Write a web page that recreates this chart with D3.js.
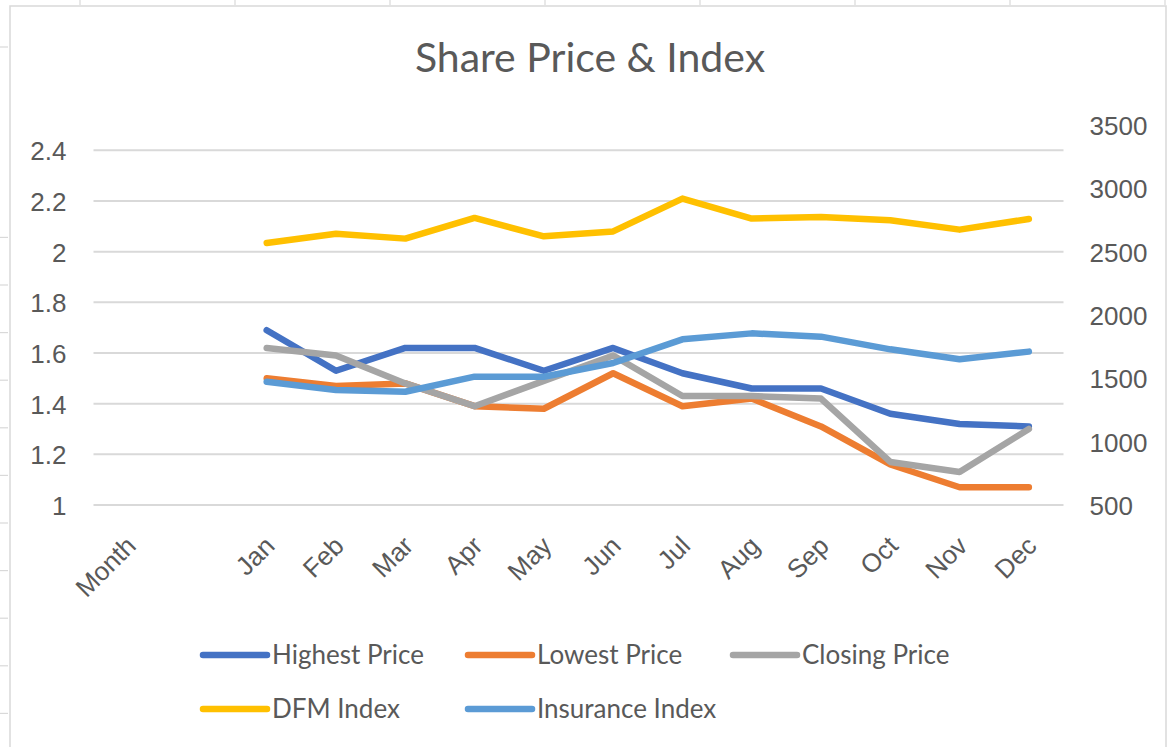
<!DOCTYPE html>
<html>
<head>
<meta charset="utf-8">
<script src="https://cdn.jsdelivr.net/npm/d3@7.9.0/dist/d3.min.js"></script>
<style>
  html, body { margin: 0; padding: 0; background: #fff; }
  svg { display: block; font-family: Lato, "Open Sans", sans-serif; }
  .tick-label { fill: #595959; font-size: 26px; }
</style>
</head>
<body>
<svg id="chart" width="1168" height="747"></svg>
<script>
// categories (first two are the header row and a blank row of the sheet)
const categories = ["Month", " ", "Jan", "Feb", "Mar", "Apr", "May", "Jun", "Jul", "Aug", "Sep", "Oct", "Nov", "Dec"];
const months = categories.slice(2);

// share prices (left axis)
const highestPrice = [1.69, 1.53, 1.62, 1.62, 1.53, 1.62, 1.52, 1.46, 1.46, 1.36, 1.32, 1.31];
const lowestPrice  = [1.50, 1.47, 1.48, 1.39, 1.38, 1.52, 1.39, 1.42, 1.31, 1.16, 1.07, 1.07];
const closingPrice = [1.62, 1.59, 1.48, 1.39, 1.49, 1.59, 1.43, 1.43, 1.42, 1.17, 1.13, 1.30];

// indices (right axis)
const dfmIndex       = [2569, 2642, 2603, 2766, 2621, 2660, 2919, 2761, 2774, 2748, 2674, 2758];
const insuranceIndex = [1473, 1408, 1394, 1513, 1513, 1621, 1808, 1855, 1829, 1729, 1650, 1711];

const leftTicks = [1, 1.2, 1.4, 1.6, 1.8, 2, 2.2, 2.4];
const rightTicks = [500, 1000, 1500, 2000, 2500, 3000, 3500];

const series = [
  { name: "Highest Price", values: highestPrice, axis: "left", color: "#4472C4" },
  { name: "Lowest Price", values: lowestPrice, axis: "left", color: "#ED7D31" },
  { name: "Closing Price", values: closingPrice, axis: "left", color: "#A5A5A5" },
  { name: "DFM Index", values: dfmIndex, axis: "right", color: "#FFC000" },
  { name: "Insurance Index", values: insuranceIndex, axis: "right", color: "#5B9BD5" }
];

const svg = d3.select("#chart");
const plot = { left: 93.5, right: 1063.5, top: 125, bottom: 505 };

// sheet cell edges peeking out round the chart
const sheet = svg.append("g").attr("stroke", "#d9d9d9").attr("stroke-width", 1.2);
d3.range(47, 747, 47.6).filter(y => !(y > 60 && y < 200)).forEach(y => {
  sheet.append("line").attr("x1", 0).attr("x2", 8).attr("y1", y).attr("y2", y);
});
d3.range(80, 1168, 155).forEach(x => {
  sheet.append("line").attr("x1", x).attr("x2", x).attr("y1", 0).attr("y2", 5);
});

// chart frame
svg.append("rect")
  .attr("x", 10).attr("y", 6)
  .attr("width", 1156).attr("height", 800)
  .attr("fill", "#fff")
  .attr("stroke", "#d9d9d9")
  .attr("stroke-width", 1.5);

const x = d3.scaleBand().domain(categories).range([plot.left, plot.right]).padding(0);
const xc = d => x(d) + x.bandwidth() / 2;
const yLeft = d3.scaleLinear().domain([1, 2.5]).range([plot.bottom, plot.top]);
const yRight = d3.scaleLinear().domain([500, 3500]).range([plot.bottom, plot.top]);

// title
svg.append("text")
  .attr("x", 590).attr("y", 72)
  .attr("text-anchor", "middle")
  .attr("fill", "#595959")
  .style("font-size", "41px")
  .text("Share Price & Index");

// gridlines
svg.append("g")
  .selectAll("line")
  .data(leftTicks)
  .join("line")
  .attr("x1", plot.left).attr("x2", plot.right)
  .attr("y1", d => yLeft(d)).attr("y2", d => yLeft(d))
  .attr("stroke", "#d9d9d9")
  .attr("stroke-width", 2);

// left axis
const leftAxis = svg.append("g")
  .attr("transform", `translate(${plot.left - 27},0)`)
  .call(d3.axisLeft(yLeft).tickValues(leftTicks).tickSize(0).tickFormat(d => String(+d.toFixed(1))));
leftAxis.select(".domain").remove();
leftAxis.selectAll("text").attr("class", "tick-label").attr("x", 0).attr("dy", "0.36em");

// right axis
const rightAxis = svg.append("g")
  .attr("transform", `translate(${plot.right + 26},0)`)
  .call(d3.axisRight(yRight).tickValues(rightTicks).tickSize(0).tickFormat(d3.format("d")));
rightAxis.select(".domain").remove();
rightAxis.selectAll("text").attr("class", "tick-label").attr("x", 0).attr("dy", "0.36em");

// x axis labels, rotated
const xAxis = svg.append("g")
  .attr("transform", `translate(0,${plot.bottom})`)
  .call(d3.axisBottom(x).tickSize(0));
xAxis.select(".domain").remove();
xAxis.selectAll("text")
  .attr("class", "tick-label")
  .attr("text-anchor", "end")
  .attr("y", 0).attr("dy", "0.35em")
  .attr("transform", "translate(3,36) rotate(-45)");

// lines
const lineLeft = d3.line().x((d, i) => xc(months[i])).y(d => yLeft(d));
const lineRight = d3.line().x((d, i) => xc(months[i])).y(d => yRight(d));

svg.append("g")
  .selectAll("path")
  .data(series)
  .join("path")
  .attr("d", s => (s.axis === "left" ? lineLeft : lineRight)(s.values))
  .attr("fill", "none")
  .attr("stroke", s => s.color)
  .attr("stroke-width", 6.5)
  .attr("stroke-linejoin", "round")
  .attr("stroke-linecap", "round");

// legend
const legend = svg.append("g");
series.forEach((s, i) => {
  const lx = 200 + (i % 3) * 265;
  const ly = 655 + Math.floor(i / 3) * 54;
  const item = legend.append("g").attr("transform", `translate(${lx},${ly})`);
  item.append("line")
    .attr("x1", 3).attr("x2", 67)
    .attr("stroke", s.color)
    .attr("stroke-width", 6.5)
    .attr("stroke-linecap", "round");
  item.append("text")
    .attr("class", "tick-label")
    .attr("x", 72).attr("dy", "0.36em")
    .text(s.name);
});
</script>
</body>
</html>
